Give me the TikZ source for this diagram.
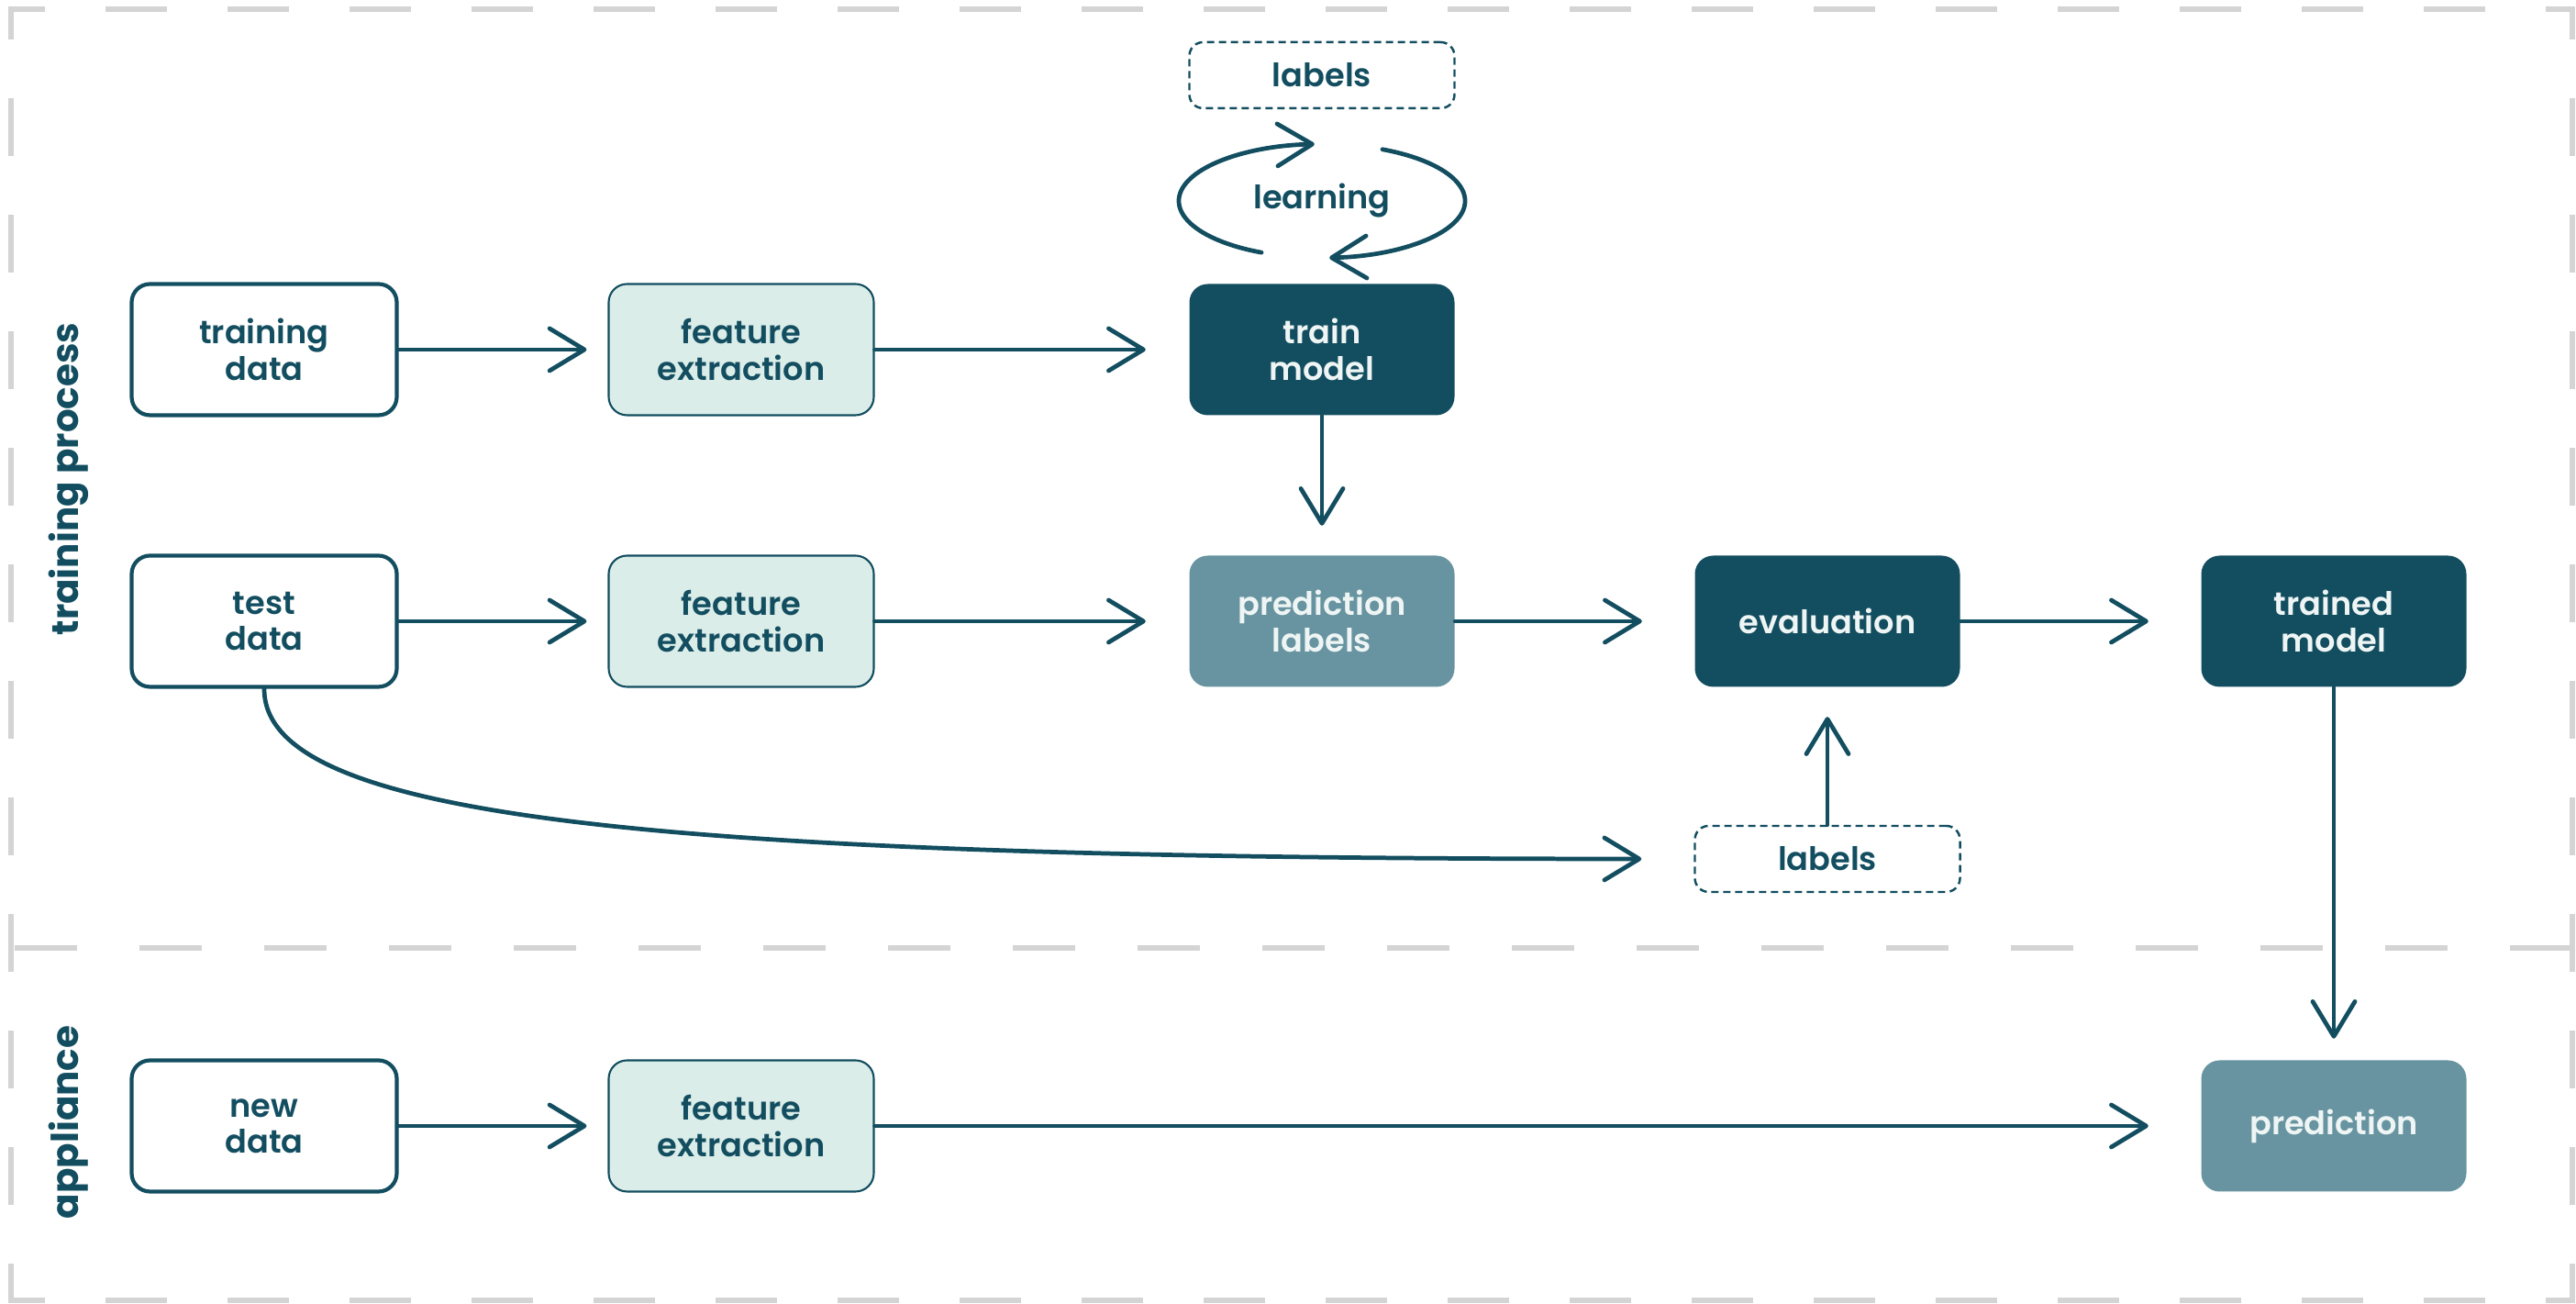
\documentclass[tikz,border=0pt]{standalone}
\usepackage{fontspec}
\IfFontExistsTF{Poppins SemiBold}{\setmainfont{Poppins SemiBold}}{\setmainfont{Poppins}}
\IfFontExistsTF{Poppins Bold}{\newfontfamily\sidefont{Poppins Bold}}{\newcommand\sidefont{\bfseries}}
\usetikzlibrary{arrows.meta}
\definecolor{deep}{HTML}{134E60}
\definecolor{mid}{HTML}{6794A0}
\definecolor{pale}{HTML}{DBEDE9}
\definecolor{snow}{HTML}{EEF5F4}
\definecolor{frameg}{HTML}{D4D4D4}

\begin{document}
\begin{tikzpicture}[
    >={Straight Barb[length=3.8mm,width=4.6mm,round]},
    every node/.style={font=\fontsize{10}{11.2}\selectfont, align=center, inner sep=0pt},
    box/.style={rounded corners=2mm, minimum width=2.89cm, minimum height=1.43cm},
    plainbox/.style={box, draw=deep, line width=1.2pt, fill=white, text=deep},
    featbox/.style={box, draw=deep, line width=0.6pt, fill=pale, text=deep},
    midbox/.style={box, fill=mid, text=snow},
    darkbox/.style={box, fill=deep, text=snow},
    labelbox/.style={rounded corners=1.5mm, draw=deep, line width=0.7pt, dash pattern=on 0.8mm off 0.5mm,
        minimum width=2.89cm, minimum height=0.72cm, text=deep},
    sidelabel/.style={rotate=90, text=deep, font=\sidefont\fontsize{11.5}{12}\selectfont},
    flow/.style={->, draw=deep, line width=1.35pt, line cap=round, line join=round},
    frame/.style={draw=frameg, line width=1.7pt}
]
    \useasboundingbox (0,0) rectangle (28.08,14.21);

    % Frame and separator
    \draw[frame, dash pattern=on 6.7mm off 6.6mm, dash phase=2.7mm] (0.09,14.11) -- (28.07,14.11);
    \draw[frame, dash pattern=on 6.7mm off 6.6mm, dash phase=2.7mm] (0.09,0.04) -- (28.07,0.04);
    \draw[frame, dash pattern=on 6.8mm off 6.8mm] (0.16,3.88) -- (28.04,3.88);
    \draw[frame, dash pattern=on 6.3mm off 6.4mm, dash phase=2.7mm] (0.12,14.14) -- (0.12,0.01);
    \draw[frame, dash pattern=on 6.3mm off 6.4mm, dash phase=2.7mm] (28.04,14.14) -- (28.04,0.01);

    % Define the nodes
    \node[sidelabel] (tproc) at (0.75,8.99) {training process};
    \node[sidelabel] (appl) at (0.75,1.98) {appliance};

    \node[plainbox] (traindata) at (2.88,10.40) {training\\data};
    \node[featbox] (feat1) at (8.08,10.40) {feature\\extraction};
    \node[darkbox] (trainmodel) at (14.41,10.40) {train\\model};
    \node[labelbox] (labels1) at (14.41,13.39) {labels};
    \node[text=deep] (learn) at (14.41,12.02) {learning};

    \node[plainbox] (testdata) at (2.88,7.44) {test\\data};
    \node[featbox] (feat2) at (8.08,7.44) {feature\\extraction};
    \node[midbox] (predlabels) at (14.41,7.44) {prediction\\labels};
    \node[darkbox] (eval) at (19.92,7.44) {evaluation};
    \node[darkbox] (trainedmodel) at (25.44,7.44) {trained\\model};
    \node[labelbox] (labels2) at (19.92,4.85) {labels};

    \node[plainbox] (newdata) at (2.88,1.94) {new\\data};
    \node[featbox] (feat3) at (8.08,1.94) {feature\\extraction};
    \node[midbox] (prediction) at (25.44,1.94) {prediction};

    % Draw the edges
    \draw[flow, shorten >=2.3mm] (traindata) -- (feat1);
    \draw[flow, shorten >=4.7mm] (feat1) -- (trainmodel);
    \draw[flow, shorten >=3.2mm] (trainmodel) -- (predlabels);
    \draw[flow, shorten >=2.3mm] (testdata) -- (feat2);
    \draw[flow, shorten >=4.7mm] (feat2) -- (predlabels);
    \draw[flow, shorten >=5.7mm] (predlabels) -- (eval);
    \draw[flow, shorten >=5.7mm] (eval) -- (trainedmodel);
    \draw[flow, shorten >=3.2mm] (labels2) -- (eval);
    \draw[flow, shorten >=2.3mm] (trainedmodel) -- (prediction);
    \draw[flow, shorten >=2.3mm] (newdata) -- (feat3);
    \draw[flow, shorten >=5.7mm] (feat3) -- (prediction);
    \draw[flow] (testdata.south) .. controls (2.88,5.30) and (7.00,4.85) .. ([xshift=-5.7mm]labels2.west);

    % Learning loop
    \draw[flow] ([shift={(245:1.56 and 0.62)}]learn.center) arc[start angle=245, end angle=93, x radius=1.56, y radius=0.62];
    \draw[flow] ([shift={(65:1.56 and 0.62)}]learn.center) arc[start angle=65, end angle=-87, x radius=1.56, y radius=0.62];
\end{tikzpicture}
\end{document}
